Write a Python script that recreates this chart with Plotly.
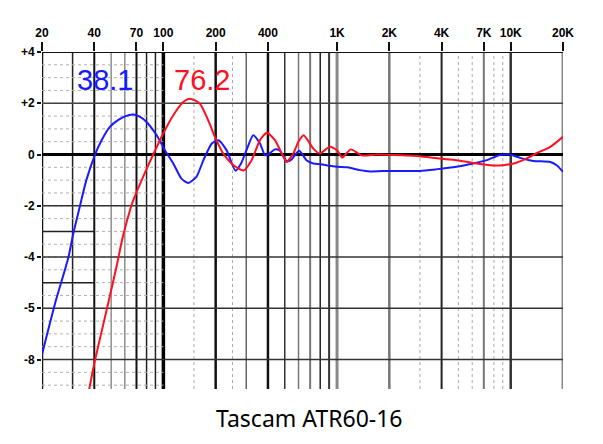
import numpy as np
import plotly.graph_objects as go

# response of the two tape speeds (Hz, dB)
freq_381 = [20, 23.8, 28.3, 30.3, 33, 36, 40.4, 44, 49.2, 55, 60.1, 67, 73, 80, 91.5, 102, 114, 127, 139,
            155, 170, 190, 207, 231, 260, 280, 301, 329, 360, 385, 400, 439, 465, 513, 546, 585, 607,
            667, 730, 800, 910, 1000, 1150, 1355, 1550, 1960, 2350, 3000, 3700, 4870, 6080, 7300,
            8660, 9900, 11300, 13500, 16900, 18400, 20000]
db_381 = [-7.8, -5.8, -4.05, -3.08, -2.04, -1.0, 0.0, 0.55, 1.08, 1.35, 1.49, 1.56, 1.48, 1.27, 0.75, 0.17,
          -0.35, -0.94, -1.11, -0.87, -0.22, 0.43, 0.56, 0.17, -0.63, -0.35, 0.17, 0.75, 0.43, -0.03,
          0.0, 0.2, 0.17, -0.26, -0.2, 0.06, 0.15, -0.22, -0.35, -0.38, -0.44, -0.48, -0.5, -0.61,
          -0.66, -0.64, -0.64, -0.64, -0.58, -0.48, -0.35, -0.22, -0.02, 0.0, -0.13, -0.25, -0.29,
          -0.42, -0.68]

freq_762 = [37.4, 40.4, 47.6, 53.7, 58.4, 65.1, 67.1, 76.4, 87.4, 99.8, 114, 130, 142, 162, 181, 198,
            221, 253, 290, 322, 360, 395, 439, 491, 513, 560, 598, 642, 730, 794, 910, 1000, 1070,
            1200, 1380, 1700, 2350, 3000, 3900, 4870, 6080, 7600, 9000, 10400, 12300, 14000, 16900,
            20000]
db_762 = [-9.16, -8.02, -5.94, -4.38, -3.21, -2.04, -1.78, -0.87, 0.0, 0.82, 1.53, 2.05, 2.18, 1.99,
          1.34, 0.69, 0.04, -0.42, -0.62, -0.22, 0.56, 0.85, 0.56, -0.09, -0.29, 0.04, 0.49, 0.75,
          0.23, 0.04, 0.3, 0.17, -0.12, 0.2, -0.03, 0.0, -0.03, -0.07, -0.16, -0.22, -0.33, -0.42,
          -0.42, -0.35, -0.16, 0.04, 0.3, 0.69]

x_labels = [20, 40, 70, 100, 200, 400, 1000, 2000, 4000, 7000, 10000, 20000]
x_text = ["20", "40", "70", "100", "200", "400", "1K", "2K", "4K", "7K", "10K", "20K"]
y_vals = [4, 2, 0, -2, -4, -6, -8]
y_text = ["+4", "+2", "0", "-2", "-4", "-5", "-8"]

# graph paper lines: (freq, width, colour)
v_lines = [(20, 2.5, "#111"), (30, 1.5, "#222"), (40, 2, "#111"), (50, 1, "#555"), (60, 1, "#555"),
           (70, 2, "#111"), (80, 1.5, "#222"), (90, 1.5, "#222"), (100, 3.5, "#000"),
           (200, 2.5, "#111"), (300, 1.5, "#666"), (400, 2.5, "#111"), (500, 1.5, "#333"),
           (600, 1.5, "#777"), (700, 2, "#777"), (800, 1.5, "#222"), (900, 2, "#333"),
           (1000, 3, "#888"), (2000, 2.5, "#777"), (4000, 2, "#222"), (7000, 2, "#777"),
           (10000, 2.5, "#333"), (20000, 3, "#888")]
dotted_v = [150, 250, 3000, 5000, 6000, 8000, 9000]
h_lines = [(4, 2, "#111"), (2, 1.5, "#444"), (0, 3, "#000"), (-2, 1.5, "#333"), (-4, 1.5, "#333"),
           (-6, 1.5, "#333"), (-8, 1.5, "#333")]
h_short = [-3, -5]

fig = go.Figure()

shapes = []
for f, w, c in v_lines:
    shapes.append(dict(type="line", xref="x", yref="paper", x0=f, x1=f, y0=0, y1=1.0,
                       line=dict(color=c, width=w), layer="below"))
for f in dotted_v:
    shapes.append(dict(type="line", xref="x", yref="paper", x0=f, x1=f, y0=0, y1=1.0,
                       line=dict(color="#aaa", width=1, dash="dot"), layer="below"))
# dotted paper texture at the low end
for v in np.arange(-9, 4, 0.5):
    shapes.append(dict(type="line", xref="x", yref="y", x0=20, x1=100, y0=v, y1=v,
                       line=dict(color="#b0b0b0", width=1, dash="dot"), layer="below"))
for v, w, c in h_lines:
    shapes.append(dict(type="line", xref="x", yref="y", x0=20, x1=20000, y0=v, y1=v,
                       line=dict(color=c, width=w), layer="below"))
for v in h_short:
    shapes.append(dict(type="line", xref="x", yref="y", x0=20, x1=40, y0=v, y1=v,
                       line=dict(color="#222", width=1.5), layer="below"))

fig.add_trace(go.Scatter(x=freq_381, y=db_381, mode="lines", line=dict(color="#1a1aff", width=2,
                                                                        shape="spline", smoothing=0.6),
                         showlegend=False))
fig.add_trace(go.Scatter(x=freq_762, y=db_762, mode="lines", line=dict(color="#ff1020", width=2,
                                                                        shape="spline", smoothing=0.6),
                         showlegend=False))

# the page body adds 8px on the left and top, so margins are shifted by that amount
fig.update_layout(
    width=603, height=444,
    margin=dict(l=34, r=48, t=44, b=63),
    paper_bgcolor="white", plot_bgcolor="white",
    shapes=shapes,
    xaxis=dict(type="log", range=[np.log10(20), np.log10(20000)], side="top", automargin=False,
               tickvals=x_labels, ticktext=x_text, showgrid=False, zeroline=False,
               ticks="outside", ticklen=9, tickwidth=2, tickcolor="#111",
               tickfont=dict(family="Liberation Sans", size=12, color="black", weight="bold")),
    yaxis=dict(range=[-9.15, 4], tickvals=y_vals, ticktext=y_text, showgrid=False, zeroline=False,
               automargin=False, ticks="outside", ticklen=4, tickwidth=2, tickcolor="#111",
               tickfont=dict(family="Liberation Sans", size=12, color="black", weight="bold")),
    annotations=[
        dict(text="38.1", x=0.121, y=0.916, xref="paper", yref="paper", showarrow=False,
             xanchor="center", yanchor="middle",
             font=dict(family="Liberation Sans", size=29, color="#1a1aff")),
        dict(text="76.2", x=0.307, y=0.916, xref="paper", yref="paper", showarrow=False,
             xanchor="center", yanchor="middle",
             font=dict(family="Liberation Sans", size=29, color="#ff1020")),
        dict(text="Tascam ATR60-16", x=0.514, y=-0.086, xref="paper", yref="paper", showarrow=False,
             xanchor="center", yanchor="middle",
             font=dict(family="Noto Sans", size=23, color="black")),
    ],
)

fig.write_html("out.html")
